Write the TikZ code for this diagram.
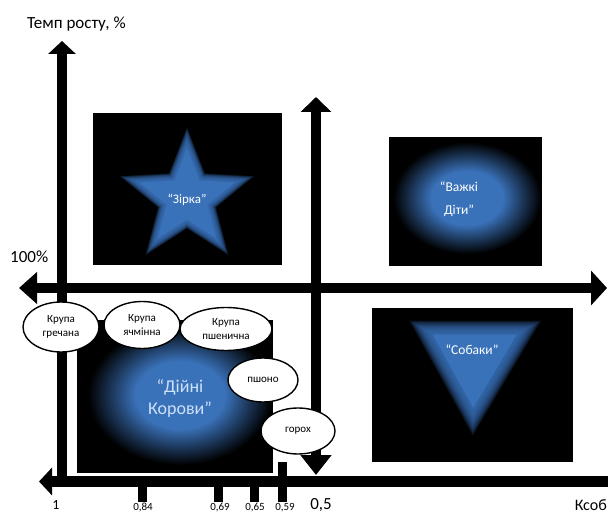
\documentclass[tikz,border=0pt]{standalone}
\usepackage{fontspec}
\setmainfont{Carlito}
\usetikzlibrary{arrows.meta,shapes.geometric}
\definecolor{blu}{RGB}{58,114,186}
\definecolor{txtb}{RGB}{205,225,250}
\pgfdeclareradialshading{glow}{\pgfpoint{0bp}{0bp}}{color(0bp)=(blu); color(12bp)=(blu); color(25bp)=(black); color(50bp)=(black)}
\begin{document}
\begin{tikzpicture}[x=1pt,y=-1pt,
  axisline/.style={line width=10.5pt},
  ell/.style={ellipse, draw=black, line width=1.4pt, fill=white, inner sep=0pt, align=center, font=\fontsize{11}{13.5}\selectfont},
  tick/.style={line width=9pt},
  ticklbl/.style={anchor=base, inner sep=0pt, font=\fontsize{11}{13}\selectfont},
  bigl/.style={anchor=base west, inner sep=0pt, font=\fontsize{17}{20}\selectfont},
  wtxt/.style={text=white, align=center, inner sep=0pt}]
\useasboundingbox (0,0) rectangle (608,513);
% black panels
\fill (93,113) rectangle (282,265);
\fill (389,137) rectangle (542,266);
\fill (372,308) rectangle (573,462);
\fill (77,320) rectangle (273,473);
% star glow
\begin{scope}[shift={(187,198)}, yscale=-1]
  \foreach \s in {1.22,1.20,...,0.86}
    \fill[blu, opacity=0.15, scale=\s] (90:58) -- (126:25) -- (162:58) -- (198:25) -- (234:58) -- (270:25) -- (306:58) -- (342:25) -- (18:58) -- (54:25) -- cycle;
  \fill[blu, scale=0.86] (90:58) -- (126:25) -- (162:58) -- (198:25) -- (234:58) -- (270:25) -- (306:58) -- (342:25) -- (18:58) -- (54:25) -- cycle;
\end{scope}
\node[wtxt, font=\fontsize{13}{15}\selectfont] (zirka) at (187,200) {“Зірка”};
% triangle glow
\begin{scope}[shift={(474,359)}]
  \foreach \s in {1.20,1.175,...,0.76}
    \fill[blu, opacity=0.13, scale=\s] (-54,-32) -- (56,-32) -- (-1,64) -- cycle;
  \fill[blu, scale=0.76] (-54,-32) -- (56,-32) -- (-1,64) -- cycle;
\end{scope}
\node[wtxt, font=\fontsize{13.5}{16}\selectfont] (sobaky) at (472,350) {“Собаки”};
% blobs
\shade[shading=glow] (467,198) ellipse [x radius=74, y radius=56];
\node[wtxt, font=\fontsize{13.5}{23}\selectfont] (vazhki) at (459,199) {“Важкі\\Діти”};
\shade[shading=glow] (180,395) ellipse [x radius=92, y radius=70];
\node[wtxt, text=txtb, font=\fontsize{18}{22}\selectfont] (korovy) at (180,398) {“Дійні\\Корови”};
% axes
\coordinate (ytop) at (62,41);
\coordinate (ybot) at (62,487);
\coordinate (xl) at (39,481.5);
\coordinate (xr) at (608,481.5);
\coordinate (mt) at (316,97);
\coordinate (mb) at (316,475);
\coordinate (hl) at (19,288);
\coordinate (hr) at (607,288);
\draw[axisline, -{Triangle[length=13pt,width=27pt]}] (ybot) -- (ytop);
\draw[axisline, -{Triangle[length=13pt,width=27pt]}] (xr) -- (xl);
\draw[axisline, {Triangle[length=15pt,width=30pt]}-{Triangle[length=20pt,width=30pt]}] (mt) -- (mb);
\draw[axisline, {Triangle[length=18pt,width=31pt]}-{Triangle[length=16pt,width=34pt]}] (hl) -- (hr);
% tick labels
\node[ticklbl] (l84) at (143,510) {0,84};
\node[ticklbl] (l69) at (220,510) {0,69};
\node[ticklbl] (l65) at (255,510) {0,65};
\node[ticklbl] (l59) at (285,510) {0,59};
\node[anchor=base, inner sep=0pt, font=\fontsize{17}{20}\selectfont] (l05) at (321,509) {0,5};
\node[anchor=base, inner sep=0pt, font=\fontsize{14}{17}\selectfont] (l1) at (56,509) {1};
\node[anchor=base east, inner sep=0pt, font=\fontsize{16}{19}\selectfont] (kcob) at (607,510) {Ксоб};
\node[bigl] (ylab) at (27,29) {Темп росту, \%};
\node[bigl] (p100) at (10,262) {100\%};
% ticks
\coordinate (t1a) at (142,476); \coordinate (t1b) at (142,502);
\coordinate (t2a) at (218,476); \coordinate (t2b) at (218,502);
\coordinate (t3a) at (254,476); \coordinate (t3b) at (254,502);
\coordinate (t4a) at (282,462); \coordinate (t4b) at (282,502);
\draw[tick] (t1a) -- (t1b);
\draw[tick] (t2a) -- (t2b);
\draw[tick] (t3a) -- (t3b);
\draw[tick] (t4a) -- (t4b);
% ellipses
\node[ell, minimum width=76pt, minimum height=50pt] (grech) at (61,327) {Крупа\\гречана};
\node[ell, minimum width=76pt, minimum height=47pt] (yachm) at (142,325) {Крупа\\ячмінна};
\node[ell, minimum width=92pt, minimum height=43pt] (pshen) at (226,329) {Крупа\\пшенична};
\node[ell, minimum width=70pt, minimum height=44pt] (psho) at (263,380) {пшоно};
\node[ell, minimum width=74pt, minimum height=46pt] (goroh) at (298,431) {горох};
\end{tikzpicture}
\end{document}
